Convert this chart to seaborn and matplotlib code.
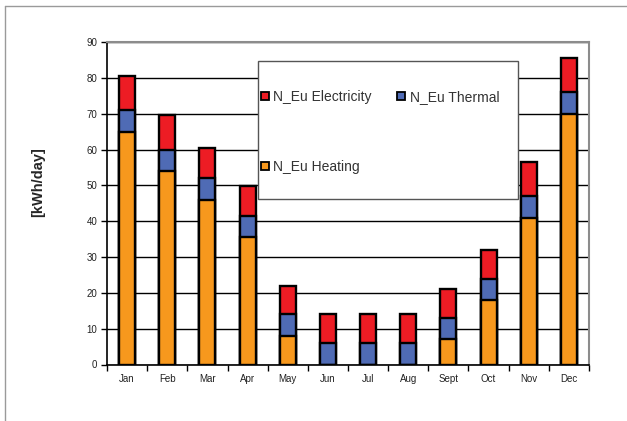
import matplotlib
matplotlib.use("Agg")
import matplotlib.pyplot as plt
from matplotlib.lines import Line2D
from matplotlib.patches import Rectangle
import numpy as np
import pandas as pd
import seaborn as sns

# Daily energy demand per month, kWh/day
months = ["Jan", "Feb", "Mar", "Apr", "May", "Jun", "Jul", "Aug", "Sept", "Oct", "Nov", "Dec"]
heating = [65, 54, 46, 35.5, 8, 0, 0, 0, 7, 18, 41, 70]
thermal = [6, 6, 6, 6, 6, 6, 6, 6, 6, 6, 6, 6]
electricity = [9.5, 9.5, 8.3, 8.3, 8, 8, 8, 8, 8, 8, 9.5, 9.5]
y_ticks = [0, 10, 20, 30, 40, 50, 60, 70, 80, 90]

ORANGE = "#F7981D"
BLUE = "#4F6BB5"
RED = "#ED1C24"

sns.set_style("white")
plt.rcParams["font.family"] = ["Liberation Sans", "DejaVu Sans"]

df = pd.DataFrame({"month": months, "heating": heating,
                   "thermal": thermal, "electricity": electricity})
df["thermal_top"] = df["heating"] + df["thermal"]
df["total"] = df["thermal_top"] + df["electricity"]

fig = plt.figure(figsize=(6.27, 4.21), dpi=100)
ax = fig.add_axes([107 / 627, 1 - 364.5 / 421, 482 / 627, 322.5 / 421])

bar_kw = dict(x="month", order=months, width=0.4, edgecolor="black",
              linewidth=1.7, saturation=1, ax=ax, zorder=3)
# stacked bars drawn as overlapping cumulative totals
sns.barplot(data=df, y="total", color=RED, **bar_kw)
sns.barplot(data=df, y="thermal_top", color=BLUE, **bar_kw)
sns.barplot(data=df, y="heating", color=ORANGE, **bar_kw)

ax.set_xlim(-0.5, len(months) - 0.5)
ax.set_ylim(0, 90)
ax.set_yticks(y_ticks)
ax.set_yticklabels([str(v) for v in y_ticks])
ax.yaxis.grid(True, color="black", linewidth=1.0, zorder=0)
ax.xaxis.grid(False)
ax.set_axisbelow(True)

ax.set_xticks(np.arange(len(months)))
ax.set_xticklabels(months)
ax.set_xticks(np.arange(len(months) + 1) - 0.5, minor=True)
ax.tick_params(axis="x", which="major", length=0, pad=7, labelsize=7, labelcolor="#222222")
ax.tick_params(axis="x", which="minor", length=4, width=1, color="black", direction="out", bottom=True)
ax.tick_params(axis="y", which="major", length=4, width=1, color="black", direction="out",
               left=True, pad=3, labelsize=7, labelcolor="#222222")

ax.set_xlabel("")
ax.set_ylabel("[kWh/day]", fontsize=10.5, fontweight="bold", labelpad=0)
ax.yaxis.set_label_coords(-(107 - 45) / 482, 0.565)

for side in ("left", "bottom"):
    ax.spines[side].set_color("black")
    ax.spines[side].set_linewidth(1.2)
for side in ("top", "right"):
    ax.spines[side].set_color("#8c8c8c")
    ax.spines[side].set_linewidth(1.5)

# legend box
box = Rectangle((0.313, 0.513), 0.54, 0.428, transform=ax.transAxes,
                facecolor="white", edgecolor="#555555", linewidth=1.0, zorder=5)
ax.add_patch(box)

handles = [
    Line2D([], [], linestyle="none", marker="s", markersize=6, markerfacecolor=RED,
           markeredgecolor="black", markeredgewidth=1.3),
    Line2D([], [], linestyle="none", marker="s", markersize=6, markerfacecolor=ORANGE,
           markeredgecolor="black", markeredgewidth=1.3),
    Line2D([], [], linestyle="none", marker="s", markersize=6, markerfacecolor=BLUE,
           markeredgecolor="black", markeredgewidth=1.3),
]
labels = ["N_Eu Electricity", "N_Eu Heating", "N_Eu Thermal"]
leg = ax.legend(handles, labels, ncol=2, loc="upper left",
                bbox_to_anchor=((260 - 107) / 482, (364.5 - 90) / 322.5),
                frameon=False, fontsize=10, handlelength=0.7, handletextpad=0.25,
                columnspacing=1.78, labelspacing=4.0, borderpad=0, borderaxespad=0)
leg.set_zorder(6)
for t in leg.get_texts():
    t.set_color("#333333")

# outer frame
fig.add_artist(Line2D([5 / 627, 5 / 627], [0, 1 - 6 / 421], transform=fig.transFigure,
                      color="#9a9a9a", linewidth=1.0))
fig.add_artist(Line2D([5 / 627, 1], [1 - 6 / 421, 1 - 6 / 421], transform=fig.transFigure,
                      color="#9a9a9a", linewidth=1.0))

fig.savefig("out.png", dpi=100)
